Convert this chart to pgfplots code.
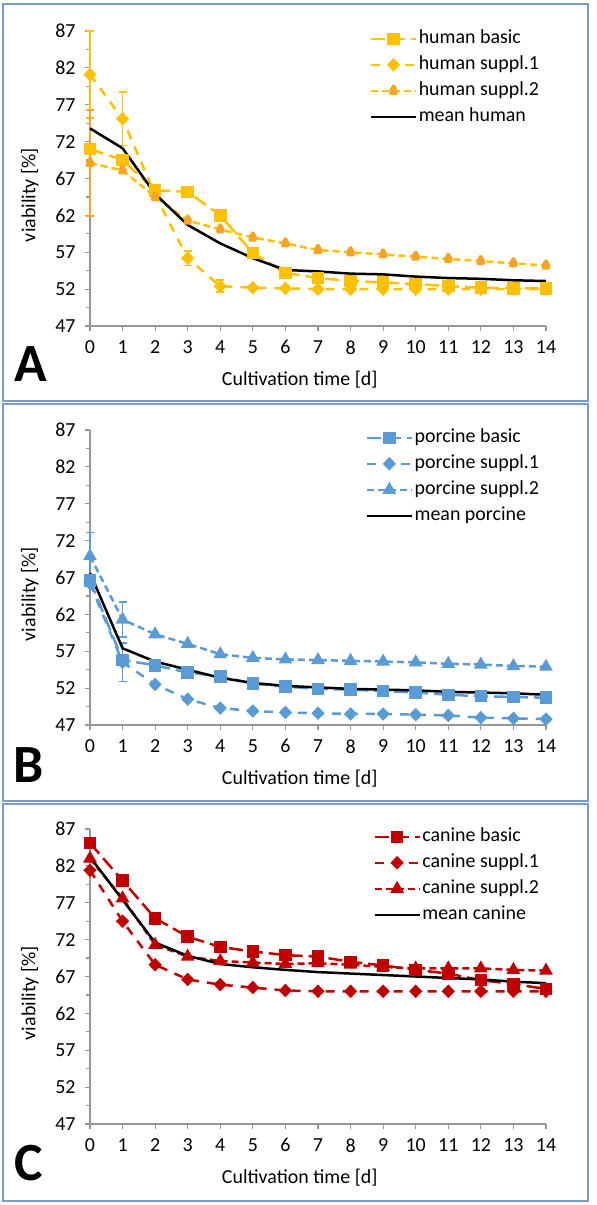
\documentclass[border=0pt]{standalone}
\usepackage{fontspec}
\setmainfont{Carlito}
\usepackage{pgfplots}
\pgfplotsset{compat=1.18}
\definecolor{gold}{RGB}{255,192,0}
\definecolor{orangeT}{RGB}{247,163,40}
\definecolor{pblue}{RGB}{91,155,213}
\definecolor{cred}{RGB}{192,0,0}
\definecolor{axisgray}{RGB}{150,150,150}
\definecolor{framec}{RGB}{120,155,205}
\newcommand{\bigf}{\fontsize{20}{24}\selectfont}
\pgfplotsset{
  legend image code/.code={\draw[mark repeat=2,mark phase=2,#1] plot coordinates {(0bp,0bp) (22.5bp,0bp) (45bp,0bp)};},
}
\pgfplotsset{
  panel/.style={
    scale only axis, width=456bp, height=295bp, anchor=south west,
    xmin=0, xmax=14, ymin=47, ymax=87,
    xtick={0,1,...,14}, ytick={47,52,...,87}, minor y tick num=1,
    axis lines=left, axis line style={-, draw=axisgray, line width=1.4bp},
    tick style={draw=axisgray, line width=1.2bp}, tick align=outside,
    major tick length=5bp, minor tick length=4bp,
    /pgf/number format/assume math mode=true,
    tick label style={font=\bigf},
    label style={font=\bigf},
    yticklabel style={xshift=-6bp},
    xticklabel style={yshift=-6bp},
    xlabel={Cultivation time [d]}, ylabel={viability [\%]},
    every axis y label/.style={at={(axis description cs:-0.132,0.444)},rotate=90,anchor=center,font=\bigf},
    every axis x label/.style={at={(axis description cs:0.46,-0.183)},anchor=center,font=\bigf},
    legend style={at={(axis description cs:0.995,1.02)}, anchor=north east, draw=none, fill=none,
      font=\bigf, row sep=3bp, nodes={inner sep=1.5bp, text height=15bp, text depth=5bp}},
    legend cell align=left,
    clip=false,
    every axis plot/.append style={line width=2.5bp},
  },
  basic/.style={dash pattern=on 14bp off 6bp, mark=square*, mark size=5bp, mark options={solid}},
  sone/.style={dash pattern=on 9bp off 8bp, mark=diamond*, mark size=5bp, mark options={solid, xscale=1.3}},
  stwo/.style={dash pattern=on 7bp off 4bp, mark=triangle*, mark size=5.5bp, mark options={solid}},
  meanl/.style={black, solid, no marks, line width=2.5bp},
  ebar/.style={forget plot, only marks, mark=none, error bars/.cd, y dir=both, y explicit,
    error bar style={solid, line width=1.6bp, draw=#1}, error mark options={solid, draw=#1, line width=1.6bp, mark size=4bp, rotate=90}},
}
\begin{document}
\begin{tikzpicture}[font=\bigf]
\useasboundingbox (0,0) rectangle (597bp,-1205bp);
\draw[framec, line width=2bp] (3bp,-4bp) rectangle (588bp,-401bp);
\draw[framec, line width=2bp] (3bp,-404bp) rectangle (588bp,-801bp);
\draw[framec, line width=2bp] (3bp,-804bp) rectangle (588bp,-1201bp);
\node[font=\fontsize{54}{60}\selectfont\bfseries] at (31bp,-364bp) {A};
\node[font=\fontsize{54}{60}\selectfont\bfseries] at (29bp,-765bp) {B};
\node[font=\fontsize{54}{60}\selectfont\bfseries] at (29bp,-1163bp) {C};

% ---------------- Panel A ----------------
\begin{axis}[panel, at={(90bp,-326bp)}]
\addplot[ebar=gold] coordinates {(0,81.1) +- (0,5.9) (1,75.1) +- (0,3.6) (3,56.2) +- (0,1.0) (4,52.4) +- (0,0.8) (4,62.0) +- (0,0.8)};
\addplot[ebar=orangeT] coordinates {(0,69.1) +- (0,7.2)};
\addplot[gold, basic] coordinates {(0,71.0)(1,69.5)(2,65.4)(3,65.2)(4,62.0)(5,56.9)(6,54.2)(7,53.5)(8,53.1)(9,52.9)(10,52.7)(11,52.4)(12,52.2)(13,52.1)(14,52.1)};
\addlegendentry{human basic}
\addplot[gold, sone] coordinates {(0,81.1)(1,75.1)(2,64.8)(3,56.2)(4,52.4)(5,52.2)(6,52.1)(7,52.0)(8,52.0)(9,52.0)(10,52.0)(11,52.0)(12,52.0)(13,52.0)(14,52.0)};
\addlegendentry{human suppl.1}
\addplot[gold, stwo, mark options={fill=orangeT, draw=orangeT}] coordinates {(0,69.1)(1,68.1)(2,64.5)(3,61.3)(4,60.1)(5,59.0)(6,58.2)(7,57.3)(8,57.0)(9,56.7)(10,56.4)(11,56.1)(12,55.8)(13,55.5)(14,55.2)};
\addlegendentry{human suppl.2}
\addplot[meanl] coordinates {(0,73.8)(1,71.1)(2,64.9)(3,60.7)(4,58.2)(5,56.2)(6,54.6)(7,54.4)(8,54.1)(9,54.0)(10,53.7)(11,53.5)(12,53.4)(13,53.2)(14,53.1)};
\addlegendentry{mean human}
\end{axis}

% ---------------- Panel B ----------------
\begin{axis}[panel, at={(90bp,-725bp)}]
\addplot[ebar=pblue] coordinates {(0,69.9) +- (0,3.2) (1,61.3) +- (0,2.4) (1,55.5) +- (0,2.6)};
\addplot[pblue, basic] coordinates {(0,66.6)(1,55.8)(2,55.1)(3,54.1)(4,53.6)(5,52.6)(6,52.2)(7,51.9)(8,51.8)(9,51.6)(10,51.4)(11,51.1)(12,50.9)(13,50.8)(14,50.7)};
\addlegendentry{porcine basic}
\addplot[pblue, sone] coordinates {(0,66.2)(1,55.5)(2,52.5)(3,50.5)(4,49.3)(5,48.9)(6,48.7)(7,48.6)(8,48.5)(9,48.5)(10,48.4)(11,48.3)(12,48.0)(13,47.9)(14,47.8)};
\addlegendentry{porcine suppl.1}
\addplot[pblue, stwo] coordinates {(0,69.9)(1,61.3)(2,59.3)(3,58.0)(4,56.6)(5,56.1)(6,55.9)(7,55.8)(8,55.7)(9,55.6)(10,55.5)(11,55.3)(12,55.2)(13,55.0)(14,54.9)};
\addlegendentry{porcine suppl.2}
\addplot[meanl] coordinates {(0,67.6)(1,57.4)(2,55.6)(3,54.5)(4,53.4)(5,52.7)(6,52.3)(7,52.1)(8,51.9)(9,51.8)(10,51.7)(11,51.5)(12,51.4)(13,51.3)(14,51.1)};
\addlegendentry{mean porcine}
\end{axis}

% ---------------- Panel C ----------------
\begin{axis}[panel, at={(90bp,-1124bp)}]
\addplot[cred, basic] coordinates {(0,85.1)(1,80.0)(2,74.9)(3,72.4)(4,71.0)(5,70.4)(6,69.9)(7,69.7)(8,69.0)(9,68.5)(10,67.9)(11,67.4)(12,66.5)(13,66.0)(14,65.3)};
\addlegendentry{canine basic}
\addplot[cred, sone] coordinates {(0,81.4)(1,74.5)(2,68.6)(3,66.6)(4,65.9)(5,65.5)(6,65.1)(7,65.0)(8,65.0)(9,65.0)(10,65.0)(11,65.0)(12,65.0)(13,65.0)(14,65.0)};
\addlegendentry{canine suppl.1}
\addplot[cred, stwo] coordinates {(0,83.0)(1,77.6)(2,71.3)(3,69.7)(4,69.1)(5,68.9)(6,68.7)(7,68.8)(8,68.6)(9,68.3)(10,68.1)(11,68.1)(12,68.1)(13,67.9)(14,67.8)};
\addlegendentry{canine suppl.2}
\addplot[meanl] coordinates {(0,83.2)(1,77.4)(2,71.6)(3,69.8)(4,68.7)(5,68.25)(6,67.9)(7,67.6)(8,67.4)(9,67.2)(10,67.0)(11,66.8)(12,66.6)(13,66.3)(14,66.1)};
\addlegendentry{mean canine}
\end{axis}
\end{tikzpicture}
\end{document}
